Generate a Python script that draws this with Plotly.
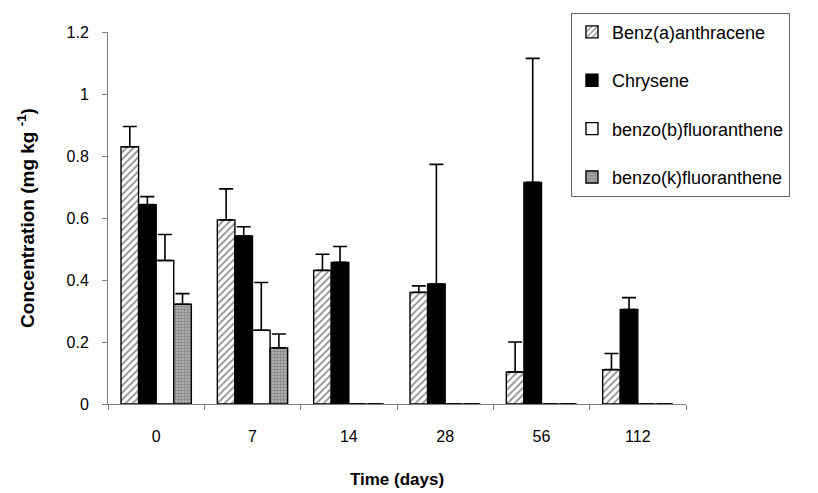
import plotly.graph_objects as go

# Sampling days (categories on the x axis)
days = ["0", "7", "14", "28", "56", "112"]

# Mean concentrations (mg kg-1) per compound
benz_a_anthracene = [0.83, 0.594, 0.431, 0.360, 0.103, 0.111]
chrysene = [0.643, 0.542, 0.457, 0.387, 0.715, 0.305]
benzo_b_fluoranthene = [0.463, 0.238, 0.0, 0.0, 0.0, 0.0]
benzo_k_fluoranthene = [0.322, 0.181, 0.0, 0.0, 0.0, 0.0]

# Upper error (standard deviation) per compound
benz_a_anthracene_err = [0.065, 0.10, 0.052, 0.021, 0.097, 0.052]
chrysene_err = [0.026, 0.030, 0.051, 0.386, 0.40, 0.038]
benzo_b_fluoranthene_err = [0.084, 0.154, 0.0, 0.0, 0.0, 0.0]
benzo_k_fluoranthene_err = [0.034, 0.045, 0.0, 0.0, 0.0, 0.0]

FONT = "Liberation Sans, Arial, sans-serif"

series = [
    ("Benz(a)anthracene", benz_a_anthracene, benz_a_anthracene_err,
     dict(color="white", pattern=dict(shape="/", size=5, solidity=0.35,
                                      fgcolor="#222222", bgcolor="white"))),
    ("Chrysene", chrysene, chrysene_err, dict(color="black")),
    ("benzo(b)fluoranthene", benzo_b_fluoranthene, benzo_b_fluoranthene_err,
     dict(color="white")),
    ("benzo(k)fluoranthene", benzo_k_fluoranthene, benzo_k_fluoranthene_err,
     dict(color="#8a8a8a", pattern=dict(shape=".", size=3, solidity=0.55,
                                        fgcolor="#4a4a4a", bgcolor="#bdbdbd"))),
]

fig = go.Figure()
for name, vals, errs, marker in series:
    fig.add_trace(go.Bar(
        name=name,
        x=days,
        y=vals,
        legendgroup=name,
        marker=dict(**marker, line=dict(color="black", width=1.4)),
        error_y=dict(type="data", symmetric=False, array=errs,
                     arrayminus=[0] * len(errs), color="black",
                     thickness=1.6, width=7),
    ))

fig.update_layout(
    width=818,
    height=493,
    margin=dict(l=108, r=132, t=32, b=89),
    paper_bgcolor="white",
    plot_bgcolor="white",
    barmode="group",
    bargap=0.27,
    bargroupgap=0,
    font=dict(family=FONT, size=15, color="black"),
    legend=dict(
        x=0.801, y=1.052, xanchor="left", yanchor="top",
        bgcolor="white", bordercolor="#666666", borderwidth=1,
        font=dict(family=FONT, size=18, color="black"),
        traceorder="grouped", tracegroupgap=22,
        itemwidth=30,
    ),
    xaxis=dict(
        type="category", automargin=False,
        showline=True, linecolor="#808080", linewidth=1,
        ticks="outside", tickson="boundaries", ticklen=5,
        tickcolor="#808080", ticklabelstandoff=18,
        tickfont=dict(size=16),
        title=dict(text="<b>Time (days)</b>", font=dict(size=17), standoff=28),
        showgrid=False, zeroline=False,
    ),
    yaxis=dict(
        range=[0, 1.2], dtick=0.2, automargin=False,
        showline=True, linecolor="#808080", linewidth=1,
        ticks="outside", ticklen=5, tickcolor="#808080",
        ticklabelstandoff=10,
        tickfont=dict(size=16),
        title=dict(text="<b>Concentration (mg kg <sup>-1</sup>)</b>",
                   font=dict(size=19), standoff=26),
        showgrid=False, zeroline=False,
    ),
)

fig.write_html("out.html")
